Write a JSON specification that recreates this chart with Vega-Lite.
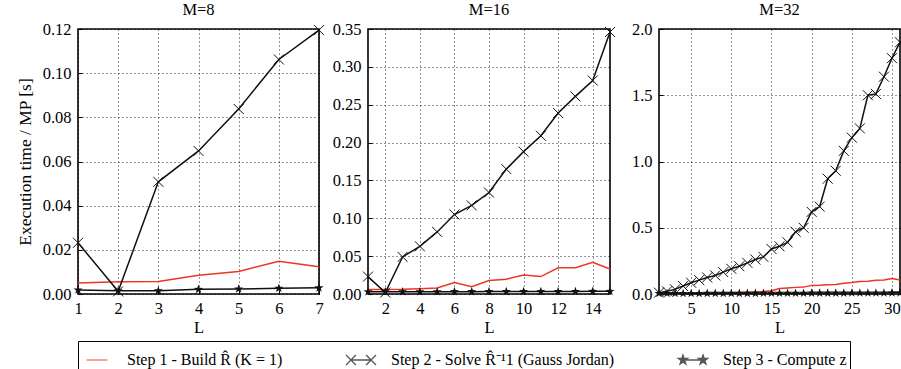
{
  "$schema": "https://vega.github.io/schema/vega-lite/v6.json",
  "padding": {"left": 15, "top": 0, "right": 1, "bottom": 0},
  "bounds": "flush",
  "spacing": 49,
  "config": {
    "font": "Liberation Serif",
    "view": {"stroke": "black", "strokeWidth": 1.6}
  },
  "datasets": {
    "d": [
      {"M": 8, "L": 1, "series": "s1", "t": 0.005},
      {"M": 8, "L": 2, "series": "s1", "t": 0.0055},
      {"M": 8, "L": 3, "series": "s1", "t": 0.0057},
      {"M": 8, "L": 4, "series": "s1", "t": 0.0085},
      {"M": 8, "L": 5, "series": "s1", "t": 0.0102},
      {"M": 8, "L": 6, "series": "s1", "t": 0.0148},
      {"M": 8, "L": 7, "series": "s1", "t": 0.0123},
      {"M": 8, "L": 1, "series": "s2", "t": 0.0232},
      {"M": 8, "L": 2, "series": "s2", "t": 0.0012},
      {"M": 8, "L": 3, "series": "s2", "t": 0.0508},
      {"M": 8, "L": 4, "series": "s2", "t": 0.0648},
      {"M": 8, "L": 5, "series": "s2", "t": 0.0838},
      {"M": 8, "L": 6, "series": "s2", "t": 0.1062},
      {"M": 8, "L": 7, "series": "s2", "t": 0.1195},
      {"M": 8, "L": 1, "series": "s3", "t": 0.0018},
      {"M": 8, "L": 2, "series": "s3", "t": 0.0015},
      {"M": 8, "L": 3, "series": "s3", "t": 0.0015},
      {"M": 8, "L": 4, "series": "s3", "t": 0.0021},
      {"M": 8, "L": 5, "series": "s3", "t": 0.0023},
      {"M": 8, "L": 6, "series": "s3", "t": 0.0026},
      {"M": 8, "L": 7, "series": "s3", "t": 0.0028},
      {"M": 16, "L": 1, "series": "s1", "t": 0.006},
      {"M": 16, "L": 2, "series": "s1", "t": 0.006},
      {"M": 16, "L": 3, "series": "s1", "t": 0.0062},
      {"M": 16, "L": 4, "series": "s1", "t": 0.007},
      {"M": 16, "L": 5, "series": "s1", "t": 0.008},
      {"M": 16, "L": 6, "series": "s1", "t": 0.015},
      {"M": 16, "L": 7, "series": "s1", "t": 0.0097},
      {"M": 16, "L": 8, "series": "s1", "t": 0.0177},
      {"M": 16, "L": 9, "series": "s1", "t": 0.0195},
      {"M": 16, "L": 10, "series": "s1", "t": 0.025},
      {"M": 16, "L": 11, "series": "s1", "t": 0.023},
      {"M": 16, "L": 12, "series": "s1", "t": 0.0346},
      {"M": 16, "L": 13, "series": "s1", "t": 0.0348},
      {"M": 16, "L": 14, "series": "s1", "t": 0.042},
      {"M": 16, "L": 15, "series": "s1", "t": 0.033},
      {"M": 16, "L": 1, "series": "s2", "t": 0.023},
      {"M": 16, "L": 2, "series": "s2", "t": 0.002},
      {"M": 16, "L": 3, "series": "s2", "t": 0.049},
      {"M": 16, "L": 4, "series": "s2", "t": 0.063},
      {"M": 16, "L": 5, "series": "s2", "t": 0.082},
      {"M": 16, "L": 6, "series": "s2", "t": 0.105},
      {"M": 16, "L": 7, "series": "s2", "t": 0.117},
      {"M": 16, "L": 8, "series": "s2", "t": 0.134},
      {"M": 16, "L": 9, "series": "s2", "t": 0.165},
      {"M": 16, "L": 10, "series": "s2", "t": 0.188},
      {"M": 16, "L": 11, "series": "s2", "t": 0.209},
      {"M": 16, "L": 12, "series": "s2", "t": 0.239},
      {"M": 16, "L": 13, "series": "s2", "t": 0.261},
      {"M": 16, "L": 14, "series": "s2", "t": 0.282},
      {"M": 16, "L": 15, "series": "s2", "t": 0.346},
      {"M": 16, "L": 1, "series": "s3", "t": 0.003},
      {"M": 16, "L": 2, "series": "s3", "t": 0.003},
      {"M": 16, "L": 3, "series": "s3", "t": 0.003},
      {"M": 16, "L": 4, "series": "s3", "t": 0.003},
      {"M": 16, "L": 5, "series": "s3", "t": 0.003},
      {"M": 16, "L": 6, "series": "s3", "t": 0.0031},
      {"M": 16, "L": 7, "series": "s3", "t": 0.0031},
      {"M": 16, "L": 8, "series": "s3", "t": 0.0032},
      {"M": 16, "L": 9, "series": "s3", "t": 0.0032},
      {"M": 16, "L": 10, "series": "s3", "t": 0.0033},
      {"M": 16, "L": 11, "series": "s3", "t": 0.0033},
      {"M": 16, "L": 12, "series": "s3", "t": 0.0034},
      {"M": 16, "L": 13, "series": "s3", "t": 0.0034},
      {"M": 16, "L": 14, "series": "s3", "t": 0.0035},
      {"M": 16, "L": 15, "series": "s3", "t": 0.0035},
      {"M": 32, "L": 1, "series": "s1", "t": 0.003},
      {"M": 32, "L": 2, "series": "s1", "t": 0.003},
      {"M": 32, "L": 3, "series": "s1", "t": 0.004},
      {"M": 32, "L": 4, "series": "s1", "t": 0.004},
      {"M": 32, "L": 5, "series": "s1", "t": 0.005},
      {"M": 32, "L": 6, "series": "s1", "t": 0.006},
      {"M": 32, "L": 7, "series": "s1", "t": 0.006},
      {"M": 32, "L": 8, "series": "s1", "t": 0.007},
      {"M": 32, "L": 9, "series": "s1", "t": 0.008},
      {"M": 32, "L": 10, "series": "s1", "t": 0.009},
      {"M": 32, "L": 11, "series": "s1", "t": 0.011},
      {"M": 32, "L": 12, "series": "s1", "t": 0.013},
      {"M": 32, "L": 13, "series": "s1", "t": 0.016},
      {"M": 32, "L": 14, "series": "s1", "t": 0.019},
      {"M": 32, "L": 15, "series": "s1", "t": 0.024},
      {"M": 32, "L": 16, "series": "s1", "t": 0.042},
      {"M": 32, "L": 17, "series": "s1", "t": 0.046},
      {"M": 32, "L": 18, "series": "s1", "t": 0.05},
      {"M": 32, "L": 19, "series": "s1", "t": 0.052},
      {"M": 32, "L": 20, "series": "s1", "t": 0.065},
      {"M": 32, "L": 21, "series": "s1", "t": 0.066},
      {"M": 32, "L": 22, "series": "s1", "t": 0.069},
      {"M": 32, "L": 23, "series": "s1", "t": 0.072},
      {"M": 32, "L": 24, "series": "s1", "t": 0.082},
      {"M": 32, "L": 25, "series": "s1", "t": 0.086},
      {"M": 32, "L": 26, "series": "s1", "t": 0.094},
      {"M": 32, "L": 27, "series": "s1", "t": 0.097},
      {"M": 32, "L": 28, "series": "s1", "t": 0.103},
      {"M": 32, "L": 29, "series": "s1", "t": 0.106},
      {"M": 32, "L": 30, "series": "s1", "t": 0.116},
      {"M": 32, "L": 31, "series": "s1", "t": 0.105},
      {"M": 32, "L": 1, "series": "s2", "t": 0.01},
      {"M": 32, "L": 2, "series": "s2", "t": 0.02},
      {"M": 32, "L": 3, "series": "s2", "t": 0.035},
      {"M": 32, "L": 4, "series": "s2", "t": 0.06},
      {"M": 32, "L": 5, "series": "s2", "t": 0.085},
      {"M": 32, "L": 6, "series": "s2", "t": 0.105},
      {"M": 32, "L": 7, "series": "s2", "t": 0.125},
      {"M": 32, "L": 8, "series": "s2", "t": 0.14},
      {"M": 32, "L": 9, "series": "s2", "t": 0.165},
      {"M": 32, "L": 10, "series": "s2", "t": 0.19},
      {"M": 32, "L": 11, "series": "s2", "t": 0.21},
      {"M": 32, "L": 12, "series": "s2", "t": 0.235},
      {"M": 32, "L": 13, "series": "s2", "t": 0.26},
      {"M": 32, "L": 14, "series": "s2", "t": 0.28},
      {"M": 32, "L": 15, "series": "s2", "t": 0.34},
      {"M": 32, "L": 16, "series": "s2", "t": 0.36},
      {"M": 32, "L": 17, "series": "s2", "t": 0.39},
      {"M": 32, "L": 18, "series": "s2", "t": 0.47},
      {"M": 32, "L": 19, "series": "s2", "t": 0.5},
      {"M": 32, "L": 20, "series": "s2", "t": 0.62},
      {"M": 32, "L": 21, "series": "s2", "t": 0.66},
      {"M": 32, "L": 22, "series": "s2", "t": 0.87},
      {"M": 32, "L": 23, "series": "s2", "t": 0.93},
      {"M": 32, "L": 24, "series": "s2", "t": 1.08},
      {"M": 32, "L": 25, "series": "s2", "t": 1.18},
      {"M": 32, "L": 26, "series": "s2", "t": 1.25},
      {"M": 32, "L": 27, "series": "s2", "t": 1.5},
      {"M": 32, "L": 28, "series": "s2", "t": 1.51},
      {"M": 32, "L": 29, "series": "s2", "t": 1.64},
      {"M": 32, "L": 30, "series": "s2", "t": 1.78},
      {"M": 32, "L": 31, "series": "s2", "t": 1.9},
      {"M": 32, "L": 1, "series": "s3", "t": 0.004},
      {"M": 32, "L": 2, "series": "s3", "t": 0.004},
      {"M": 32, "L": 3, "series": "s3", "t": 0.004},
      {"M": 32, "L": 4, "series": "s3", "t": 0.004},
      {"M": 32, "L": 5, "series": "s3", "t": 0.004},
      {"M": 32, "L": 6, "series": "s3", "t": 0.004},
      {"M": 32, "L": 7, "series": "s3", "t": 0.005},
      {"M": 32, "L": 8, "series": "s3", "t": 0.005},
      {"M": 32, "L": 9, "series": "s3", "t": 0.005},
      {"M": 32, "L": 10, "series": "s3", "t": 0.005},
      {"M": 32, "L": 11, "series": "s3", "t": 0.005},
      {"M": 32, "L": 12, "series": "s3", "t": 0.005},
      {"M": 32, "L": 13, "series": "s3", "t": 0.005},
      {"M": 32, "L": 14, "series": "s3", "t": 0.006},
      {"M": 32, "L": 15, "series": "s3", "t": 0.006},
      {"M": 32, "L": 16, "series": "s3", "t": 0.006},
      {"M": 32, "L": 17, "series": "s3", "t": 0.006},
      {"M": 32, "L": 18, "series": "s3", "t": 0.006},
      {"M": 32, "L": 19, "series": "s3", "t": 0.006},
      {"M": 32, "L": 20, "series": "s3", "t": 0.007},
      {"M": 32, "L": 21, "series": "s3", "t": 0.007},
      {"M": 32, "L": 22, "series": "s3", "t": 0.007},
      {"M": 32, "L": 23, "series": "s3", "t": 0.007},
      {"M": 32, "L": 24, "series": "s3", "t": 0.007},
      {"M": 32, "L": 25, "series": "s3", "t": 0.008},
      {"M": 32, "L": 26, "series": "s3", "t": 0.008},
      {"M": 32, "L": 27, "series": "s3", "t": 0.008},
      {"M": 32, "L": 28, "series": "s3", "t": 0.008},
      {"M": 32, "L": 29, "series": "s3", "t": 0.008},
      {"M": 32, "L": 30, "series": "s3", "t": 0.009},
      {"M": 32, "L": 31, "series": "s3", "t": 0.009}
    ]
  },
  "hconcat": [
    {
      "width": 241, "height": 265,
      "view": {"stroke": "black", "strokeWidth": 1.6},
      "title": {"text": "M=8", "font": "Liberation Serif", "fontSize": 16.5, "fontWeight": "normal", "color": "black", "offset": 3},
      "data": {"name": "d"},
      "transform": [{"filter": "datum.M == 8"}],
      "encoding": {
        "x": {"field": "L", "type": "quantitative", "scale": {"domain": [1, 7], "nice": false, "zero": false},
          "axis": {"values": [1, 2, 3, 4, 5, 6, 7], "title": "L", "format": "d", "grid": true, "gridColor": "black", "gridDash": [1, 3], "gridOpacity": 0.85, "domain": false, "ticks": true, "tickSize": -4, "tickColor": "black", "labelFlush": false, "labelPadding": 10, "labelFont": "Liberation Serif", "labelFontSize": 16.5, "labelColor": "black", "titleFont": "Liberation Serif", "titleFontSize": 16.5, "titleFontWeight": "normal", "titleColor": "black", "titlePadding": 3}},
        "y": {"field": "t", "type": "quantitative", "scale": {"domain": [0, 0.12], "nice": false},
          "axis": {"values": [0, 0.02, 0.04, 0.06, 0.08, 0.1, 0.12], "format": ".2f", "title": "Execution time / MP [s]", "grid": true, "gridColor": "black", "gridDash": [1, 3], "gridOpacity": 0.85, "domain": false, "ticks": true, "tickSize": -4, "tickColor": "black", "labelPadding": 11, "labelFont": "Liberation Serif", "labelFontSize": 16.5, "labelColor": "black", "titleFont": "Liberation Serif", "titleFontSize": 17.5, "titleFontWeight": "normal", "titleColor": "black", "titlePadding": 8}}
      },
      "layer": [
        {"transform": [{"filter": "datum.series == 's1'"}], "mark": {"type": "line", "strokeWidth": 1.5, "color": "#ee3524"}},
        {"transform": [{"filter": "datum.series != 's1'"}], "mark": {"type": "line", "strokeWidth": 1.5, "color": "#111111"}, "encoding": {"detail": {"field": "series"}}},
        {"transform": [{"filter": "datum.series == 's2'"}], "mark": {"type": "point", "shape": "M-1,-1L1,1M-1,1L1,-1", "filled": false, "size": 100, "color": "#111111", "strokeWidth": 1, "opacity": 1}},
        {"transform": [{"filter": "datum.series == 's3'"}], "mark": {"type": "point", "shape": "M0,-1L0.235,-0.324L0.951,-0.309L0.38,0.124L0.588,0.809L0,0.4L-0.588,0.809L-0.38,0.124L-0.951,-0.309L-0.235,-0.324Z", "filled": true, "size": 90, "color": "#111111", "opacity": 1}},
        {"transform": [{"filter": "datum.M == 0"}], "mark": {"type": "point", "filled": false, "fill": "#111111", "strokeWidth": 1.3},
          "encoding": {
            "color": {"field": "series", "type": "nominal", "scale": {"domain": ["s1", "s2", "s3"], "range": ["#ee3524", "#111111", "#111111"]},
              "legend": {"orient": "bottom", "offset": 4, "direction": "horizontal", "title": null, "strokeColor": "black", "padding": 3, "labelFont": "Liberation Serif", "labelFontSize": 16, "labelColor": "black", "symbolSize": 900, "symbolStrokeWidth": 1.3, "columnPadding": 60, "labelLimit": 400, "labelOffset": 14,
                "labelExpr": "datum.label == 's1' ? 'Step 1 - Build R̂ (K = 1)' : datum.label == 's2' ? 'Step 2 - Solve R̂⁻¹1 (Gauss Jordan)' : 'Step 3 - Compute z'"}},
            "shape": {"field": "series", "type": "nominal", "scale": {"domain": ["s1", "s2", "s3"], "range": ["M-0.7,0H0.7", "M-1,-0.33L-0.34,0.33M-1,0.33L-0.34,-0.33M0.34,-0.33L1,0.33M0.34,0.33L1,-0.33M-0.67,0H0.67", "M-0.67,-0.33L-0.594,-0.105L-0.356,-0.102L-0.546,0.04L-0.476,0.267L-0.67,0.13L-0.864,0.267L-0.794,0.04L-0.984,-0.102L-0.746,-0.105ZM0.67,-0.33L0.746,-0.105L0.984,-0.102L0.794,0.04L0.864,0.267L0.67,0.13L0.476,0.267L0.546,0.04L0.356,-0.102L0.594,-0.105ZM-0.67,0H0.67"]}}
          }
        }
      ]
    },
    {
      "width": 242, "height": 265,
      "view": {"stroke": "black", "strokeWidth": 1.6},
      "title": {"text": "M=16", "font": "Liberation Serif", "fontSize": 16.5, "fontWeight": "normal", "color": "black", "offset": 3},
      "data": {"name": "d"},
      "transform": [{"filter": "datum.M == 16"}],
      "encoding": {
        "x": {"field": "L", "type": "quantitative", "scale": {"domain": [1, 15], "nice": false, "zero": false},
          "axis": {"values": [2, 4, 6, 8, 10, 12, 14], "title": "L", "format": "d", "grid": true, "gridColor": "black", "gridDash": [1, 3], "gridOpacity": 0.85, "domain": false, "ticks": true, "tickSize": -4, "tickColor": "black", "labelFlush": false, "labelPadding": 10, "labelFont": "Liberation Serif", "labelFontSize": 16.5, "labelColor": "black", "titleFont": "Liberation Serif", "titleFontSize": 16.5, "titleFontWeight": "normal", "titleColor": "black", "titlePadding": 3}},
        "y": {"field": "t", "type": "quantitative", "scale": {"domain": [0, 0.35], "nice": false},
          "axis": {"values": [0, 0.05, 0.1, 0.15, 0.2, 0.25, 0.3, 0.35], "format": ".2f", "title": null, "grid": true, "gridColor": "black", "gridDash": [1, 3], "gridOpacity": 0.85, "domain": false, "ticks": true, "tickSize": -4, "tickColor": "black", "labelPadding": 11, "labelFont": "Liberation Serif", "labelFontSize": 16.5, "labelColor": "black"}}
      },
      "layer": [
        {"transform": [{"filter": "datum.series == 's1'"}], "mark": {"type": "line", "strokeWidth": 1.5, "color": "#ee3524"}},
        {"transform": [{"filter": "datum.series != 's1'"}], "mark": {"type": "line", "strokeWidth": 1.5, "color": "#111111"}, "encoding": {"detail": {"field": "series"}}},
        {"transform": [{"filter": "datum.series == 's2'"}], "mark": {"type": "point", "shape": "M-1,-1L1,1M-1,1L1,-1", "filled": false, "size": 100, "color": "#111111", "strokeWidth": 1, "opacity": 1}},
        {"transform": [{"filter": "datum.series == 's3'"}], "mark": {"type": "point", "shape": "M0,-1L0.235,-0.324L0.951,-0.309L0.38,0.124L0.588,0.809L0,0.4L-0.588,0.809L-0.38,0.124L-0.951,-0.309L-0.235,-0.324Z", "filled": true, "size": 90, "color": "#111111", "opacity": 1}}
      ]
    },
    {
      "width": 241, "height": 265,
      "view": {"stroke": "black", "strokeWidth": 1.6},
      "title": {"text": "M=32", "font": "Liberation Serif", "fontSize": 16.5, "fontWeight": "normal", "color": "black", "offset": 3},
      "data": {"name": "d"},
      "transform": [{"filter": "datum.M == 32"}],
      "encoding": {
        "x": {"field": "L", "type": "quantitative", "scale": {"domain": [1, 31], "nice": false, "zero": false},
          "axis": {"values": [5, 10, 15, 20, 25, 30], "title": "L", "format": "d", "grid": true, "gridColor": "black", "gridDash": [1, 3], "gridOpacity": 0.85, "domain": false, "ticks": true, "tickSize": -4, "tickColor": "black", "labelFlush": false, "labelPadding": 10, "labelFont": "Liberation Serif", "labelFontSize": 16.5, "labelColor": "black", "titleFont": "Liberation Serif", "titleFontSize": 16.5, "titleFontWeight": "normal", "titleColor": "black", "titlePadding": 3}},
        "y": {"field": "t", "type": "quantitative", "scale": {"domain": [0, 2], "nice": false},
          "axis": {"values": [0, 0.5, 1, 1.5, 2], "format": ".1f", "title": null, "grid": true, "gridColor": "black", "gridDash": [1, 3], "gridOpacity": 0.85, "domain": false, "ticks": true, "tickSize": -4, "tickColor": "black", "labelPadding": 11, "labelFont": "Liberation Serif", "labelFontSize": 16.5, "labelColor": "black"}}
      },
      "layer": [
        {"transform": [{"filter": "datum.series == 's1'"}], "mark": {"type": "line", "strokeWidth": 1.5, "color": "#ee3524"}},
        {"transform": [{"filter": "datum.series != 's1'"}], "mark": {"type": "line", "strokeWidth": 1.5, "color": "#111111"}, "encoding": {"detail": {"field": "series"}}},
        {"transform": [{"filter": "datum.series == 's2'"}], "mark": {"type": "point", "shape": "M-1,-1L1,1M-1,1L1,-1", "filled": false, "size": 100, "color": "#111111", "strokeWidth": 1, "opacity": 1}},
        {"transform": [{"filter": "datum.series == 's3'"}], "mark": {"type": "point", "shape": "M0,-1L0.235,-0.324L0.951,-0.309L0.38,0.124L0.588,0.809L0,0.4L-0.588,0.809L-0.38,0.124L-0.951,-0.309L-0.235,-0.324Z", "filled": true, "size": 90, "color": "#111111", "opacity": 1}}
      ]
    }
  ]
}
